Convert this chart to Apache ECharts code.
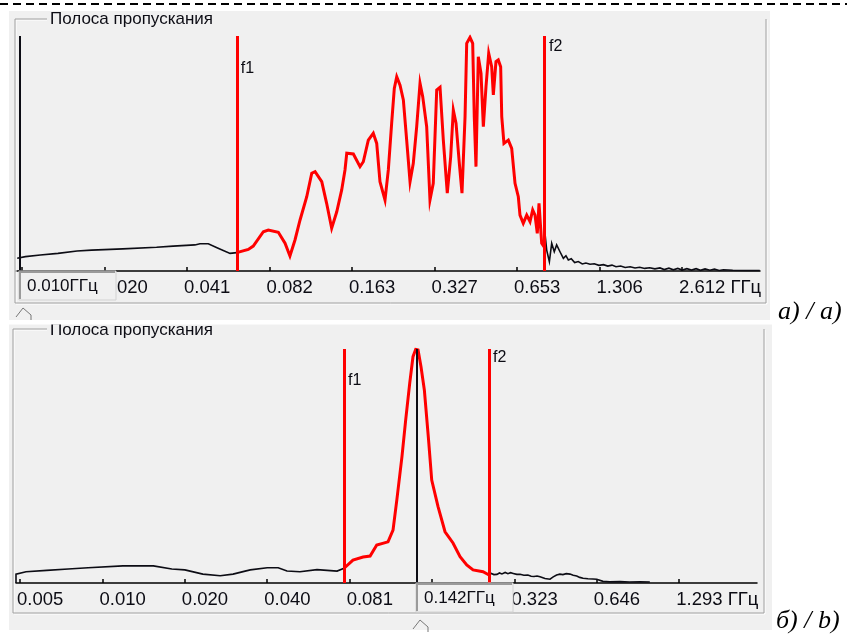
<!DOCTYPE html>
<html>
<head>
<meta charset="utf-8">
<script src="https://cdn.jsdelivr.net/npm/echarts@6/dist/echarts.min.js"></script>
<style>
  html, body { margin: 0; padding: 0; background: #fff; }
  #chart { width: 847px; height: 635px; }
</style>
</head>
<body>
<div id="chart"></div>
<script>
// ---- Panel a): wide-band transmission, frequency in GHz, level normalised to 1 ----
const TOP_TICK_VALUES = [0.0102, 0.0204, 0.0408, 0.0816, 0.1633, 0.3265, 0.6530, 1.306, 2.612];
const TOP_TICK_LABELS = ['0.010', '0.020', '0.041', '0.082', '0.163', '0.327', '0.653', '1.306', '2.612 ГГц'];
const TOP_RANGE = [0.00970, 5.03];
const TOP_F1 = 0.0620;
const TOP_F2 = 0.826;
const TOP_CURSOR = 0.010;

const TOP_BELOW_F1 = [
  [0.0098, 0.054], [0.0105, 0.061], [0.0119, 0.068], [0.0138, 0.075], [0.0162, 0.085],
  [0.0183, 0.089], [0.0238, 0.094], [0.0316, 0.101], [0.0363, 0.106], [0.0436, 0.111],
  [0.0455, 0.116], [0.0488, 0.116], [0.0530, 0.097], [0.0586, 0.075], [0.0620, 0.078]
];
const TOP_PASSBAND = [
  [0.0620, 0.078], [0.0628, 0.086], [0.0683, 0.092], [0.0712, 0.106], [0.0775, 0.167],
  [0.0808, 0.174], [0.0879, 0.165], [0.0930, 0.118], [0.0969, 0.064], [0.1011, 0.132],
  [0.1055, 0.217], [0.1116, 0.316], [0.1164, 0.416], [0.1197, 0.423], [0.1266, 0.380],
  [0.1319, 0.288], [0.1376, 0.182], [0.1436, 0.252], [0.1497, 0.345], [0.1539, 0.430],
  [0.1562, 0.501], [0.1651, 0.498], [0.1746, 0.444], [0.1795, 0.465], [0.1872, 0.557],
  [0.1952, 0.586], [0.2009, 0.543], [0.2065, 0.380], [0.2154, 0.302], [0.2215, 0.430],
  [0.2278, 0.629], [0.2329, 0.777], [0.2377, 0.827], [0.2444, 0.791], [0.2513, 0.728],
  [0.2584, 0.557], [0.2658, 0.380], [0.2732, 0.458], [0.2811, 0.614], [0.2891, 0.799],
  [0.2957, 0.742], [0.3057, 0.614], [0.3143, 0.302], [0.3231, 0.373], [0.3326, 0.770],
  [0.3420, 0.782], [0.3516, 0.557], [0.3635, 0.331], [0.3740, 0.486], [0.3824, 0.685],
  [0.3912, 0.629], [0.4022, 0.458], [0.4113, 0.331], [0.4220, 0.657], [0.4279, 0.969],
  [0.4399, 0.994], [0.4500, 0.969], [0.4560, 0.657], [0.4626, 0.444], [0.4717, 0.912],
  [0.4826, 0.841], [0.4921, 0.614], [0.5032, 0.784], [0.5148, 0.926], [0.5278, 0.869],
  [0.5352, 0.749], [0.5472, 0.891], [0.5579, 0.898], [0.5692, 0.869], [0.5744, 0.657],
  [0.5852, 0.543], [0.6070, 0.557], [0.6245, 0.522], [0.6422, 0.373], [0.6602, 0.316],
  [0.6695, 0.238], [0.6883, 0.203], [0.7084, 0.238], [0.7284, 0.210], [0.7450, 0.260],
  [0.7596, 0.238], [0.7743, 0.160], [0.7856, 0.288], [0.8034, 0.118], [0.8260, 0.097]
];
const TOP_ABOVE_F2 = [
  [0.826, 0.160], [0.838, 0.089], [0.857, 0.040], [0.874, 0.118], [0.893, 0.082],
  [0.911, 0.111], [0.937, 0.082], [0.964, 0.054], [0.985, 0.065], [1.005, 0.047],
  [1.030, 0.052], [1.060, 0.036], [1.093, 0.040], [1.130, 0.030], [1.165, 0.034],
  [1.206, 0.029], [1.250, 0.031], [1.300, 0.024], [1.350, 0.027], [1.400, 0.021],
  [1.450, 0.025], [1.500, 0.018], [1.560, 0.021], [1.620, 0.015], [1.690, 0.018],
  [1.760, 0.013], [1.830, 0.016], [1.910, 0.011], [1.990, 0.014], [2.080, 0.009],
  [2.170, 0.013], [2.250, 0.006], [2.340, 0.012], [2.430, 0.005], [2.520, 0.011],
  [2.620, 0.004], [2.720, 0.010], [2.830, 0.004], [2.940, 0.010], [3.050, 0.003],
  [3.170, 0.009], [3.300, 0.003], [3.430, 0.008], [3.570, 0.002], [3.700, 0.005],
  [4.000, 0.003], [4.500, 0.002], [5.020, 0.002]
];

// ---- Panel b): narrow-band transmission ----
const BOTTOM_TICK_VALUES = [0.00505, 0.0101, 0.0202, 0.0404, 0.0808, 0.1616, 0.3233, 0.6465, 1.293];
const BOTTOM_TICK_LABELS = ['0.005', '0.010', '0.020', '0.040', '0.081', '0.161', '0.323', '0.646', '1.293 ГГц'];
const BOTTOM_RANGE = [0.00488, 2.488];
const BOTTOM_F1 = 0.0771;
const BOTTOM_F2 = 0.261;
const BOTTOM_CURSOR = 0.142;

const BOTTOM_BELOW_F1 = [
  [0.00488, 0.000], [0.00488, 0.038], [0.00531, 0.048], [0.00632, 0.054], [0.00757, 0.060],
  [0.00895, 0.065], [0.0120, 0.073], [0.0155, 0.073], [0.0181, 0.060], [0.0202, 0.056],
  [0.0235, 0.038], [0.0272, 0.031], [0.0303, 0.038], [0.0350, 0.056], [0.0404, 0.065],
  [0.0443, 0.065], [0.0477, 0.051], [0.0532, 0.048], [0.0614, 0.057], [0.0727, 0.051],
  [0.0771, 0.063]
];
const BOTTOM_PASSBAND = [
  [0.0771, 0.063], [0.0831, 0.098], [0.0905, 0.111], [0.0960, 0.115], [0.1015, 0.162],
  [0.1116, 0.176], [0.1164, 0.226], [0.1202, 0.355], [0.1255, 0.540], [0.1295, 0.697],
  [0.1340, 0.855], [0.1377, 0.967], [0.1409, 0.999], [0.1437, 0.996], [0.1473, 0.924],
  [0.1515, 0.825], [0.1570, 0.611], [0.1612, 0.440], [0.1700, 0.326], [0.1803, 0.219],
  [0.1928, 0.171], [0.2046, 0.112], [0.2164, 0.077], [0.2282, 0.056], [0.2482, 0.048],
  [0.2611, 0.034]
];
const BOTTOM_ABOVE_F2 = [
  [0.261, 0.034], [0.266, 0.041], [0.272, 0.036], [0.279, 0.037], [0.285, 0.043],
  [0.291, 0.039], [0.299, 0.045], [0.306, 0.040], [0.313, 0.044], [0.320, 0.041],
  [0.330, 0.037], [0.339, 0.037], [0.350, 0.033], [0.362, 0.034], [0.372, 0.029],
  [0.381, 0.028], [0.391, 0.030], [0.401, 0.027], [0.418, 0.019], [0.436, 0.016],
  [0.448, 0.026], [0.461, 0.034], [0.474, 0.038], [0.486, 0.036], [0.500, 0.040],
  [0.516, 0.038], [0.530, 0.033], [0.546, 0.030], [0.560, 0.024], [0.576, 0.020],
  [0.600, 0.018], [0.625, 0.017], [0.646, 0.016], [0.681, 0.007], [0.720, 0.005],
  [0.786, 0.006], [0.850, 0.004], [0.930, 0.005], [1.010, 0.004]
];

const TITLE = 'Полоса пропускания';
const UNIT = 'ГГц';
const CAPTION_TOP = 'а) / a)';
const CAPTION_BOTTOM = 'б) / b)';

// ---- helpers ----
const lg = Math.log2;
const toAxis = pts => pts.map(([f, v]) => [lg(f), v]);
const RED = '#ff0000';
const INK = '#0c0c14';
const UI_FONT = 'Liberation Sans';
const LABEL_LEAD_PX = 3; // labels start just left of their tick

function freqAxis(gridIndex, range, widthPx, tickValues, tickLabels) {
  const pos = tickValues.map(lg);
  const pxPerOctave = widthPx / (lg(range[1]) - lg(range[0]));
  const lead = LABEL_LEAD_PX / pxPerOctave;
  const labelPos = pos.map(p => p - lead);
  return {
    type: 'value',
    gridIndex,
    min: lg(range[0]),
    max: lg(range[1]),
    axisLine: { show: true, onZero: false, lineStyle: { color: '#000', width: 1.5 } },
    axisTick: { show: true, inside: true, length: 4, customValues: pos, lineStyle: { color: '#000', width: 1.5 } },
    axisLabel: {
      show: true, customValues: labelPos, align: 'left', margin: 7,
      color: INK, fontFamily: UI_FONT, fontSize: 18.5,
      formatter: v => {
        let best = 0;
        labelPos.forEach((p, i) => { if (Math.abs(p - v) < Math.abs(labelPos[best] - v)) best = i; });
        return tickLabels[best];
      }
    },
    splitLine: { show: false }
  };
}

function trace(idx, data, color, width, marks) {
  const s = {
    type: 'line', xAxisIndex: idx, yAxisIndex: idx, data: toAxis(data),
    symbol: 'none', animation: false,
    lineStyle: { color, width, join: 'miter' }
  };
  if (marks) s.markLine = marks;
  return s;
}

function vLines(values, color, width) {
  return {
    silent: true, symbol: ['none', 'none'], animation: false,
    label: { show: false },
    lineStyle: { color, width, type: 'solid' },
    data: values.map(f => ({ xAxis: lg(f) }))
  };
}

const chart = echarts.init(document.getElementById('chart'), null, { renderer: 'canvas' });

chart.setOption({
  backgroundColor: '#ffffff',
  animation: false,
  grid: [
    { left: 16, top: 36, width: 744, height: 235 },
    { left: 16, top: 349, width: 741, height: 234 }
  ],
  xAxis: [
    freqAxis(0, TOP_RANGE, 744, TOP_TICK_VALUES, TOP_TICK_LABELS),
    freqAxis(1, BOTTOM_RANGE, 741, BOTTOM_TICK_VALUES, BOTTOM_TICK_LABELS)
  ],
  yAxis: [
    { type: 'value', gridIndex: 0, min: 0, max: 1, show: false },
    { type: 'value', gridIndex: 1, min: 0, max: 1, show: false }
  ],
  series: [
    trace(0, TOP_BELOW_F1, INK, 1.6, vLines([TOP_CURSOR], INK, 2)),
    trace(0, TOP_ABOVE_F2, INK, 1.6),
    trace(0, TOP_PASSBAND, RED, 3, vLines([TOP_F1, TOP_F2], RED, 3)),
    trace(1, BOTTOM_BELOW_F1, INK, 1.6, vLines([BOTTOM_CURSOR], INK, 2)),
    trace(1, BOTTOM_ABOVE_F2, INK, 1.6),
    trace(1, BOTTOM_PASSBAND, RED, 3, vLines([BOTTOM_F1, BOTTOM_F2], RED, 3))
  ]
});

// ---- panel decoration: frames, titles, cursor readouts, marker names ----
const at = (idx, f, v) => chart.convertToPixel({ xAxisIndex: idx, yAxisIndex: idx }, [lg(f), v]);

function panelFrame(x0, y0, x1, y1, titleX) {
  return [
    { type: 'polyline', z: 1, shape: { points: [[titleX - 3, y0 + 1], [x0 + 1, y0 + 1], [x0 + 1, y1 + 1], [x1 + 1, y1 + 1], [x1 + 1, y0 + 1]] },
      style: { stroke: '#ffffff', lineWidth: 1, fill: null } },
    { type: 'polyline', z: 1, shape: { points: [[titleX - 3, y0], [x0, y0], [x0, y1], [x1, y1], [x1, y0]] },
      style: { stroke: '#a0a0a0', lineWidth: 1, fill: null } }
  ];
}

function cursorBox(idx, f) {
  const [cx, base] = at(idx, f, 0);
  const x = Math.round(cx) - 1, y = Math.round(base), w = 97, h = 29;
  return [
    { type: 'rect', z: 60, shape: { x, y, width: w, height: h }, style: { fill: '#f0f0f0', stroke: '#d2d2d2', lineWidth: 1 } },
    { type: 'polyline', z: 61, shape: { points: [[x + 1, y + h - 1], [x + 1, y + 1], [x + w - 1, y + 1]] }, style: { stroke: '#9a9a9a', lineWidth: 2, fill: null } },
    { type: 'text', z: 62, x: x + 8, y: y + h / 2 + 1,
      style: { text: f.toFixed(3) + UNIT, fill: INK, font: `17px "${UI_FONT}"`, textVerticalAlign: 'middle' } },
    { type: 'polyline', z: 62, shape: { points: [[x - 3, y + 46], [x + 4, y + 37], [x + 12, y + 44], [x + 12, y + 49]] },
      style: { stroke: '#777', lineWidth: 1, fill: null } }
  ];
}

function markerName(idx, f, level, name) {
  const [x, y] = at(idx, f, level);
  return { type: 'text', z: 40, x: x + 4, y,
    style: { text: name, fill: INK, font: `16px "${UI_FONT}"`, textVerticalAlign: 'middle' } };
}

const graphics = [
  // page separator
  { type: 'line', z: 1, shape: { x1: 0, y1: 4, x2: 847, y2: 4 }, style: { stroke: '#000', lineWidth: 2, lineDash: [8, 5] } },
  // panel backgrounds
  { type: 'rect', z: -10, shape: { x: 9, y: 11, width: 761, height: 309 }, style: { fill: '#f0f0f0' } },
  { type: 'rect', z: -10, shape: { x: 9, y: 324, width: 763, height: 306 }, style: { fill: '#f0f0f0' } },
  ...panelFrame(15, 19, 766, 303, 50),
  ...panelFrame(13, 329, 764, 613, 50),
  { type: 'text', z: 5, x: 50, y: 19, style: { text: TITLE, fill: INK, font: `17px "${UI_FONT}"`, textVerticalAlign: 'middle' } },
  { type: 'text', z: 5, x: 50, y: 330, style: { text: TITLE, fill: INK, font: `17px "${UI_FONT}"`, textVerticalAlign: 'middle' } },
  // gap between the two panels trims the second title
  { type: 'rect', z: 6, shape: { x: 0, y: 320, width: 780, height: 4.5 }, style: { fill: '#ffffff' } },
  ...cursorBox(0, TOP_CURSOR),
  ...cursorBox(1, BOTTOM_CURSOR),
  markerName(0, TOP_F1, 0.86, 'f1'),
  markerName(0, TOP_F2, 0.953, 'f2'),
  markerName(1, BOTTOM_F1, 0.863, 'f1'),
  markerName(1, BOTTOM_F2, 0.962, 'f2'),
  { type: 'text', z: 5, x: 778, y: 312, style: { text: CAPTION_TOP, fill: '#000', font: 'italic 26px "Liberation Serif"', textVerticalAlign: 'middle' } },
  { type: 'text', z: 5, x: 776, y: 621, style: { text: CAPTION_BOTTOM, fill: '#000', font: 'italic 26px "Liberation Serif"', textVerticalAlign: 'middle' } }
];

chart.setOption({ graphic: graphics });
</script>
</body>
</html>
